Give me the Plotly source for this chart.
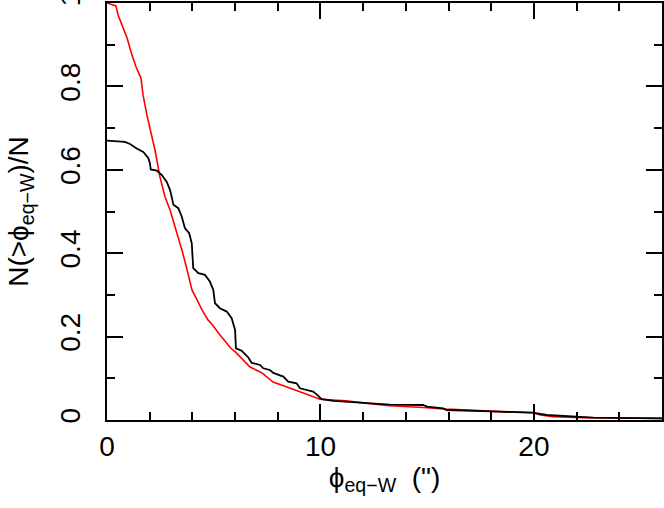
import plotly.graph_objects as go

# =======================
# Dati
# =======================

# curva rossa: N(>phi)/N
red_phi = [0.0, 0.42, 0.52, 0.75, 0.94, 1.17, 1.36, 1.59, 1.69, 1.87, 2.05, 2.25, 2.48,
           2.72, 2.95, 3.09, 3.30, 3.53, 3.77, 3.98, 4.22, 4.45, 4.73, 4.95, 5.2, 5.5,
           5.8, 6.0, 6.32, 6.70, 7.26, 7.78, 8.43, 9.04, 9.5, 9.98, 10.6, 11.2, 12.0,
           13.25, 14.8, 15.9, 18.4, 19.95, 20.3, 20.9, 22.3, 26.0]
red_frac = [1.0, 0.993, 0.971, 0.942, 0.916, 0.875, 0.847, 0.82, 0.779, 0.731, 0.69, 0.647,
            0.583, 0.535, 0.504, 0.48, 0.445, 0.404, 0.356, 0.312, 0.288, 0.264, 0.24,
            0.228, 0.21, 0.19, 0.172, 0.164, 0.146, 0.127, 0.113, 0.091, 0.079, 0.067,
            0.058, 0.050, 0.048, 0.046, 0.041, 0.034, 0.030, 0.026, 0.020, 0.0175, 0.012,
            0.008, 0.0055, 0.004]

# curva nera
black_phi = [0.0, 0.84, 1.08, 1.39, 1.70, 1.94, 2.01, 2.05, 2.33, 2.56, 2.80, 2.95, 3.03,
             3.11, 3.34, 3.50, 3.65, 3.85, 3.97, 4.04, 4.28, 4.59, 4.82, 4.98, 5.06, 5.29,
             5.61, 5.84, 6.0, 6.04, 6.31, 6.62, 6.78, 7.17, 7.32, 7.63, 7.79, 8.26, 8.49,
             8.88, 9.04, 9.66, 9.9, 10.05, 10.6, 11.85, 13.25, 14.8, 15.0, 15.75, 15.9,
             18.4, 19.95, 20.6, 22.3, 22.8, 26.0]
black_frac = [0.67, 0.667, 0.662, 0.651, 0.643, 0.628, 0.616, 0.601, 0.598, 0.588, 0.571,
              0.552, 0.535, 0.516, 0.508, 0.488, 0.46, 0.448, 0.424, 0.364, 0.352, 0.348,
              0.332, 0.312, 0.28, 0.268, 0.26, 0.244, 0.216, 0.172, 0.166, 0.15, 0.137,
              0.132, 0.124, 0.12, 0.113, 0.104, 0.092, 0.088, 0.076, 0.068, 0.058, 0.05,
              0.046, 0.042, 0.037, 0.036, 0.032, 0.028, 0.024, 0.020, 0.0175, 0.012,
              0.008, 0.0055, 0.004]

x_ticks = [0, 10, 20]
y_ticks = [0, 0.2, 0.4, 0.6, 0.8, 1]
y_ticklabels = ["0", "0.2", "0.4", "0.6", "0.8", "1"]

FONT = "Liberation Sans"
X_RANGE = [0, 26]
Y_RANGE = [0, 1]

fig = go.Figure()

fig.add_trace(go.Scatter(x=red_phi, y=red_frac, mode="lines",
                         line=dict(color="#ff0000", width=1.6), showlegend=False))
fig.add_trace(go.Scatter(x=black_phi, y=black_frac, mode="lines",
                         line=dict(color="black", width=1.8), showlegend=False))

tick_style = dict(ticks="inside", ticklen=16, tickwidth=1.5, tickcolor="black")
minor_x = dict(dtick=2, ticks="inside", ticklen=8, tickwidth=1.5, tickcolor="black")
minor_y = dict(dtick=0.1, ticks="inside", ticklen=8, tickwidth=1.5, tickcolor="black")
tfont = dict(family=FONT, size=28, color="black")

fig.update_xaxes(
    range=X_RANGE, tickvals=x_ticks, showgrid=False, zeroline=False,
    showline=True, linecolor="black", linewidth=2, mirror=True,
    minor=minor_x, tickfont=tfont, automargin=False, ticklabeloverflow="allow",
    title=dict(text="ϕ<sub>eq−W</sub>  (\")", font=tfont, standoff=0),
    **tick_style,
)
fig.update_yaxes(
    range=Y_RANGE, tickvals=y_ticks, ticktext=y_ticklabels, tickangle=-90,
    showgrid=False, zeroline=False,
    showline=True, linecolor="black", linewidth=2, mirror=True,
    minor=minor_y, tickfont=tfont, automargin=False, ticklabeloverflow="allow",
    ticklabelstandoff=14,
    title=dict(text="N(>ϕ<sub>eq−W</sub>)/N", font=tfont, standoff=18),
    **tick_style,
)

# assi speculari (alto e destra) solo per le tacche
fig.update_layout(
    xaxis2=dict(overlaying="x", side="top", matches="x", range=X_RANGE,
                tickvals=x_ticks, showticklabels=False, showgrid=False, zeroline=False,
                minor=minor_x, **tick_style),
    yaxis2=dict(overlaying="y", side="right", matches="y", range=Y_RANGE,
                tickvals=y_ticks, showticklabels=False, showgrid=False, zeroline=False,
                minor=minor_y, **tick_style),
)
fig.add_trace(go.Scatter(x=[None], y=[None], xaxis="x2", yaxis="y2",
                         showlegend=False, hoverinfo="skip"))

fig.update_layout(
    width=664, height=508,
    margin=dict(l=107, r=2, t=3, b=88),
    plot_bgcolor="white", paper_bgcolor="white",
)

# niente margine della pagina, il grafico parte dall'angolo
fig.write_html("out.html", config={"displayModeBar": False},
               post_script="document.body.style.margin='0';")
